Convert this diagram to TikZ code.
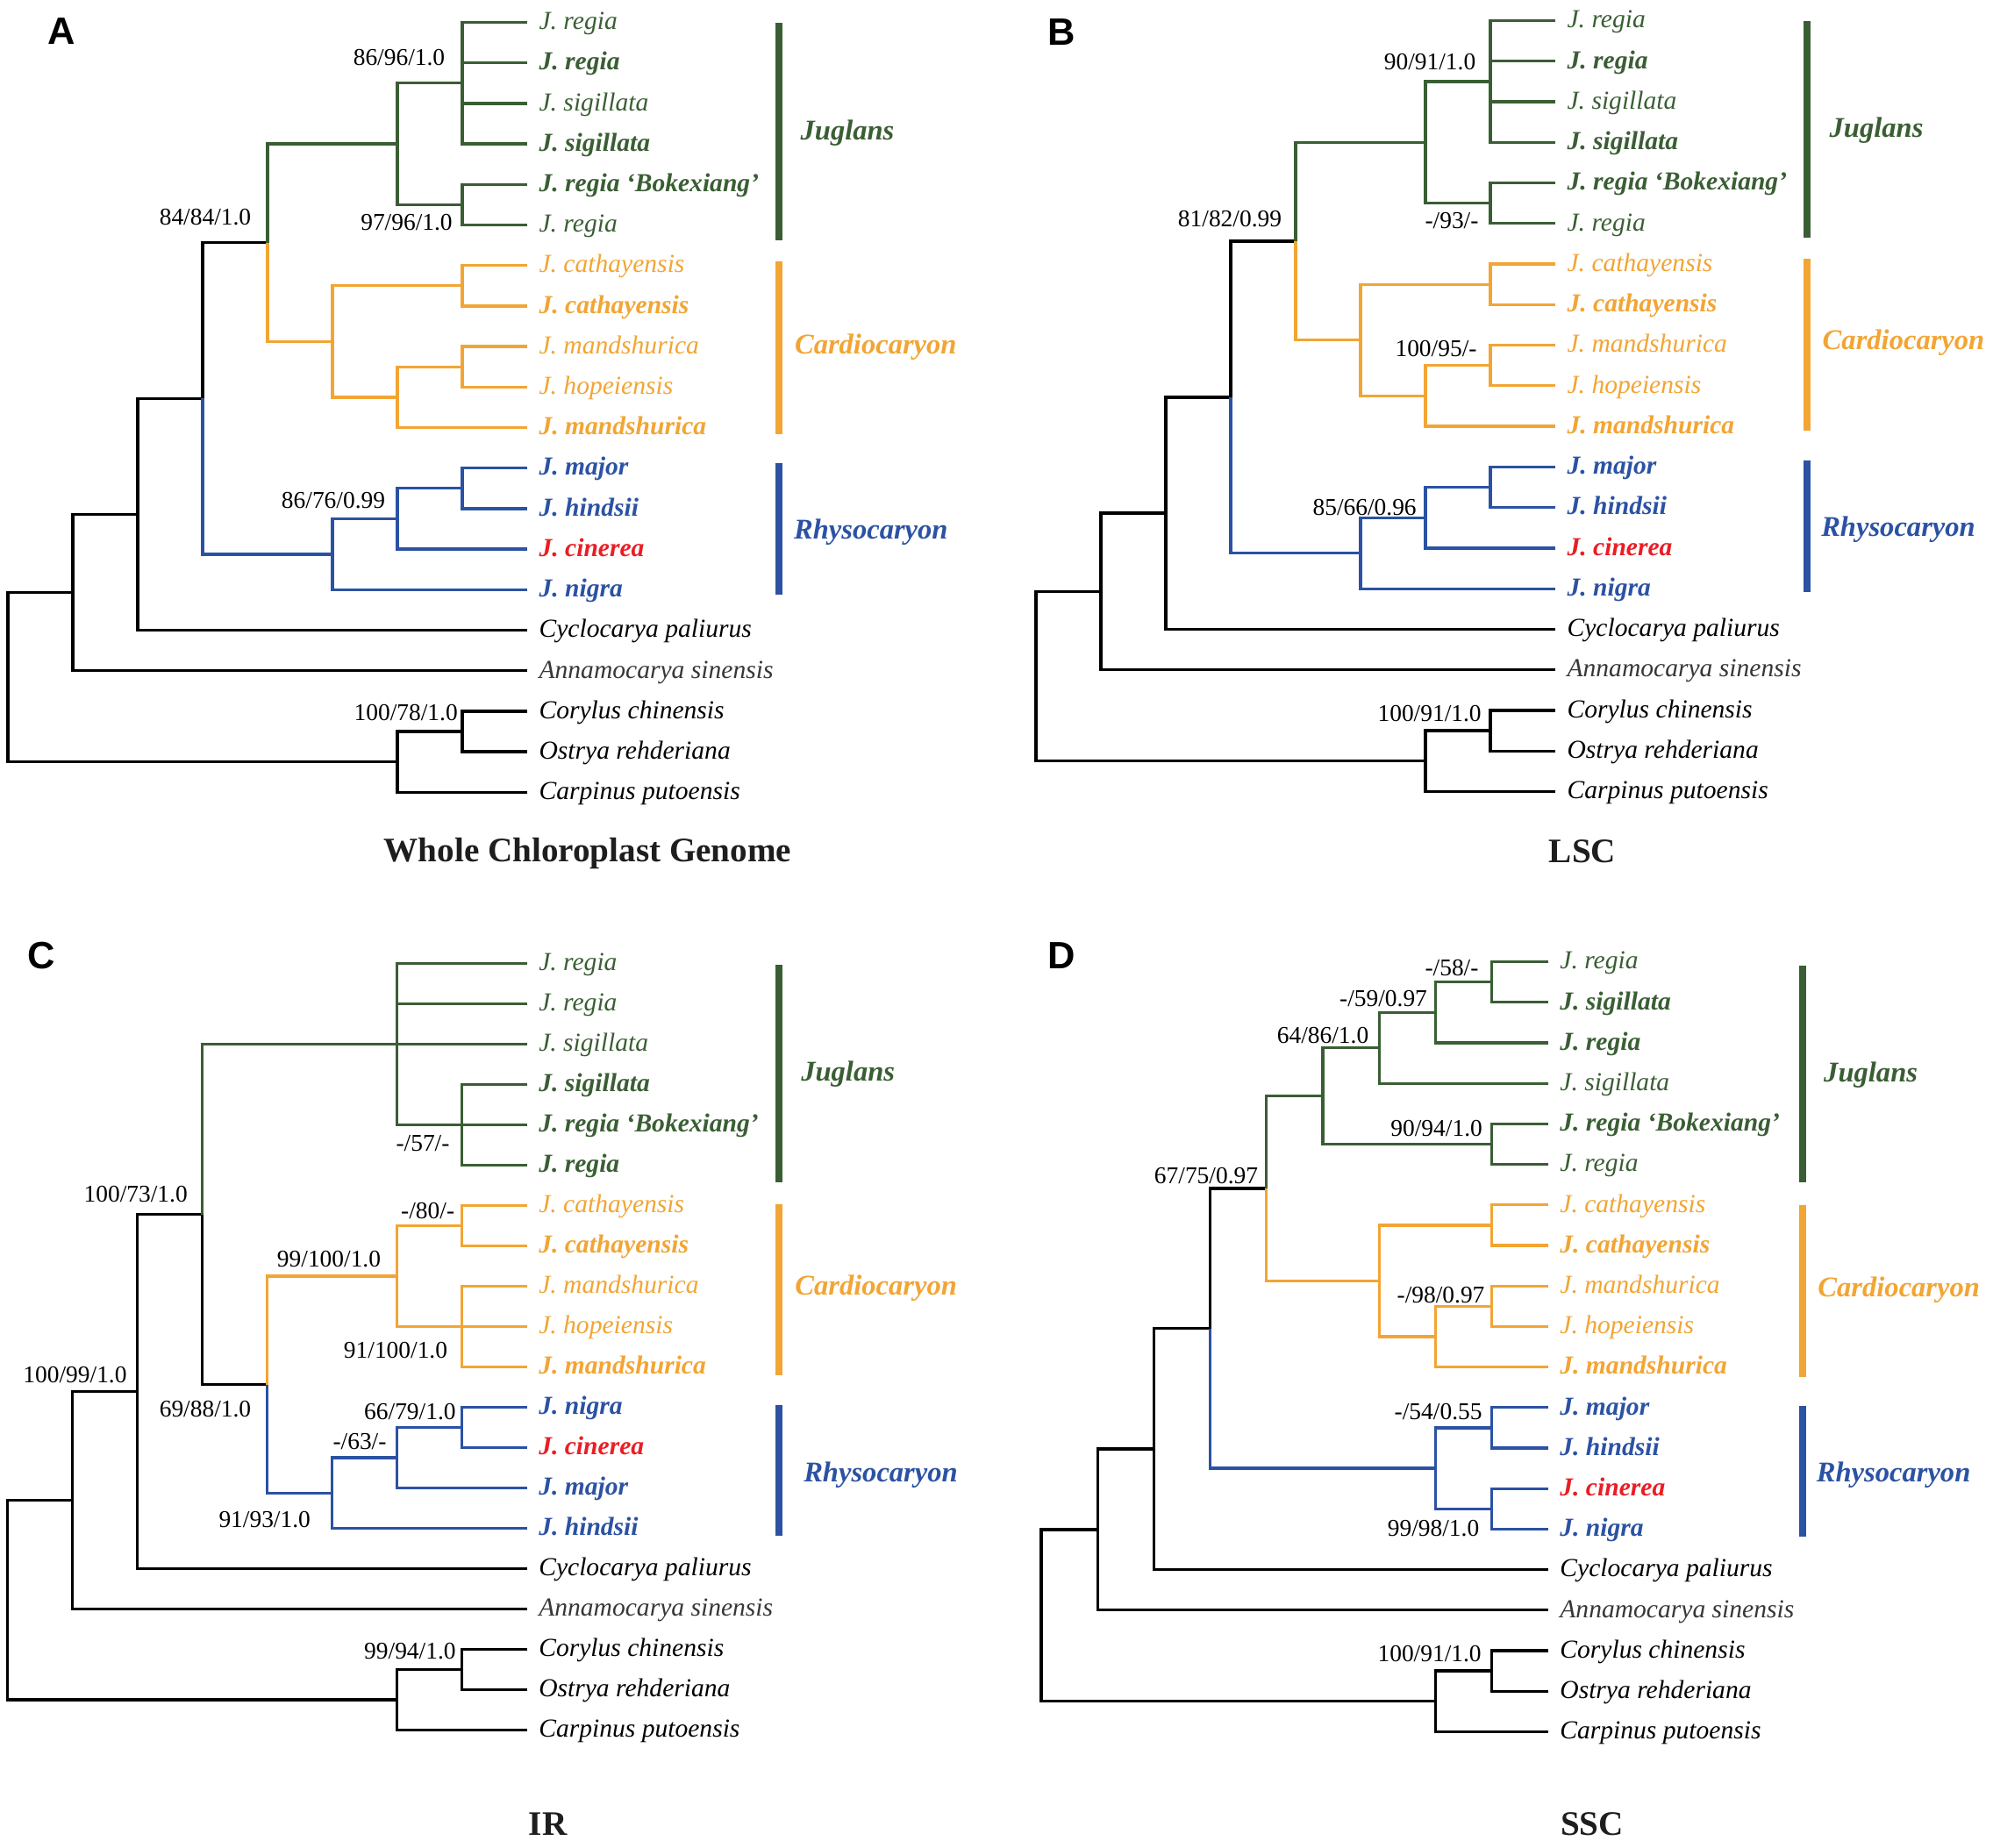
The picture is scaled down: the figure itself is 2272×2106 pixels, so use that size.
\documentclass[tikz,border=0pt]{standalone}
\usepackage{fontspec}
\setmainfont{Liberation Serif}
\newfontfamily\lsans{Liberation Sans}
\definecolor{jg}{RGB}{58,94,52}
\definecolor{co}{RGB}{242,165,52}
\definecolor{rb}{RGB}{43,82,163}
\definecolor{rd}{RGB}{233,30,37}
\definecolor{an}{RGB}{55,55,55}
\definecolor{ttlc}{RGB}{30,30,30}
\tikzset{
  br/.style={line width=1.15pt, line join=miter},
  lr/.style={font=\fontsize{10.35}{12}\selectfont\itshape, inner sep=0pt},
  lb/.style={font=\fontsize{10.35}{12}\selectfont\bfseries\itshape, inner sep=0pt},
  sup/.style={font=\fontsize{9.6}{11}\selectfont, inner sep=0pt},
  clade/.style={font=\fontsize{11.4}{13}\selectfont\bfseries\itshape, inner sep=0pt},
  ttl/.style={font=\fontsize{13.7}{16}\selectfont\bfseries, inner sep=0pt, text=ttlc},
  plet/.style={font=\lsans\bfseries\fontsize{15.2}{18}\selectfont, inner sep=0pt},
  cbar/.style={line width=2.5pt},
}
\newcommand\mkint[3]{\coordinate (#1) at ({\PXo+(#2)*\PXs},{\PYo+(#3)*\PYs});}
\newcommand\mkleaf[5]{\coordinate (#1) at ({\PXo+\PTip*\PXs},{\PYo+(#2)*\PYs});%
  \node[#3,text=#4,anchor=base west,xshift=4.55pt,yshift=-2.9pt] (#1t) at (#1) {#5};}
\newcommand\mkedge[3]{\draw[br,#1] (#2) |- (#3);}
\newcommand\treeAB[1]{%
\mkleaf{#1L0}{0}{lr}{jg}{J. regia}
\mkleaf{#1L1}{1}{lb}{jg}{J. regia}
\mkleaf{#1L2}{2}{lr}{jg}{J. sigillata}
\mkleaf{#1L3}{3}{lb}{jg}{J. sigillata}
\mkleaf{#1L4}{4}{lb}{jg}{J. regia ‘Bokexiang’}
\mkleaf{#1L5}{5}{lr}{jg}{J. regia}
\mkleaf{#1L6}{6}{lr}{co}{J. cathayensis}
\mkleaf{#1L7}{7}{lb}{co}{J. cathayensis}
\mkleaf{#1L8}{8}{lr}{co}{J. mandshurica}
\mkleaf{#1L9}{9}{lr}{co}{J. hopeiensis}
\mkleaf{#1L10}{10}{lb}{co}{J. mandshurica}
\mkleaf{#1L11}{11}{lb}{rb}{J. major}
\mkleaf{#1L12}{12}{lb}{rb}{J. hindsii}
\mkleaf{#1L13}{13}{lb}{rd}{J. cinerea}
\mkleaf{#1L14}{14}{lb}{rb}{J. nigra}
\mkleaf{#1L15}{15}{lr}{black}{Cyclocarya paliurus}
\mkleaf{#1L16}{16}{lr}{an}{Annamocarya sinensis}
\mkleaf{#1L17}{17}{lr}{black}{Corylus chinensis}
\mkleaf{#1L18}{18}{lr}{black}{Ostrya rehderiana}
\mkleaf{#1L19}{19}{lr}{black}{Carpinus putoensis}
\mkint{#1a1}{7}{1.5}
\mkint{#1a2}{7}{4.5}
\mkint{#1a3}{6}{3}
\mkint{#1c1}{7}{6.5}
\mkint{#1c2}{7}{8.5}
\mkint{#1c3}{6}{9.25}
\mkint{#1c4}{5}{7.875}
\mkint{#1n4}{4}{5.4375}
\mkint{#1r1}{7}{11.5}
\mkint{#1r2}{6}{12.25}
\mkint{#1r3}{5}{13.125}
\mkint{#1n3}{3}{9.28125}
\mkint{#1n2}{2}{12.140625}
\mkint{#1n1}{1}{14.0703}
\mkint{#1o1}{7}{17.5}
\mkint{#1o2}{6}{18.25}
\mkint{#1rt}{0}{16.16}
\mkedge{black}{#1n3}{#1n4}
\mkedge{black}{#1n2}{#1n3}
\mkedge{black}{#1n2}{#1L15}
\mkedge{black}{#1n1}{#1n2}
\mkedge{black}{#1n1}{#1L16}
\mkedge{black}{#1o1}{#1L17}
\mkedge{black}{#1o1}{#1L18}
\mkedge{black}{#1o2}{#1o1}
\mkedge{black}{#1o2}{#1L19}
\mkedge{black}{#1rt}{#1n1}
\mkedge{black}{#1rt}{#1o2}
\mkedge{jg}{#1a1}{#1L0}
\mkedge{jg}{#1a1}{#1L1}
\mkedge{jg}{#1a1}{#1L2}
\mkedge{jg}{#1a1}{#1L3}
\mkedge{jg}{#1a2}{#1L4}
\mkedge{jg}{#1a2}{#1L5}
\mkedge{jg}{#1a3}{#1a1}
\mkedge{jg}{#1a3}{#1a2}
\mkedge{jg}{#1n4}{#1a3}
\mkedge{co}{#1c1}{#1L6}
\mkedge{co}{#1c1}{#1L7}
\mkedge{co}{#1c2}{#1L8}
\mkedge{co}{#1c2}{#1L9}
\mkedge{co}{#1c3}{#1c2}
\mkedge{co}{#1c3}{#1L10}
\mkedge{co}{#1c4}{#1c1}
\mkedge{co}{#1c4}{#1c3}
\mkedge{co}{#1n4}{#1c4}
\mkedge{rb}{#1r1}{#1L11}
\mkedge{rb}{#1r1}{#1L12}
\mkedge{rb}{#1r2}{#1r1}
\mkedge{rb}{#1r2}{#1L13}
\mkedge{rb}{#1r3}{#1r2}
\mkedge{rb}{#1r3}{#1L14}
\mkedge{rb}{#1n3}{#1r3}
}
\begin{document}
\begin{tikzpicture}[x=0.35pt,y=-0.35pt]
\useasboundingbox (0,0) rectangle (2272,2106);
\fill[white] (0,0) rectangle (2272,2106);
% ---------------- Panel A
\begin{scope}
\def\PXo{9}\def\PXs{74}\def\PYo{25.5}\def\PYs{46.2}\def\PTip{8}
\treeAB{A}
\node[plet] (Alet) at (70.5,36) {A};
\node[sup] (As1) at (455,65.5) {86/96/1.0};
\node[sup] (As2) at (463.5,253.7) {97/96/1.0};
\node[sup] (As3) at (234,248) {84/84/1.0};
\node[sup] (As4) at (380,571) {86/76/0.99};
\node[sup] (As5) at (462.7,812.8) {100/78/1.0};
\draw[cbar,jg] (888,26) -- (888,274);
\draw[cbar,co] (888,298) -- (888,495);
\draw[cbar,rb] (888,528) -- (888,678);
\node[clade,text=jg] (Acj) at (966,151.7) {Juglans};
\node[clade,text=co] (Acc) at (998.3,396) {Cardiocaryon};
\node[clade,text=rb] (Acr) at (992.8,607) {Rhysocaryon};
\node[ttl] (Attl) at (670,973) {Whole Chloroplast Genome};
\end{scope}
% ---------------- Panel B
\begin{scope}
\def\PXo{1181}\def\PXs{74}\def\PYo{23.5}\def\PYs{46.26}\def\PTip{8}
\treeAB{B}
\node[plet] (Blet) at (1210.6,37) {B};
\node[sup] (Bs1) at (1630,70.5) {90/91/1.0};
\node[sup] (Bs2) at (1655,251.7) {-/93/-};
\node[sup] (Bs3) at (1402,249.7) {81/82/0.99};
\node[sup] (Bs4) at (1637,398) {100/95/-};
\node[sup] (Bs5) at (1555.6,578.5) {85/66/0.96};
\node[sup] (Bs6) at (1629.6,813.4) {100/91/1.0};
\draw[cbar,jg] (2060,23.5) -- (2060,270.5);
\draw[cbar,co] (2060,295) -- (2060,491);
\draw[cbar,rb] (2060,525) -- (2060,674.5);
\node[clade,text=jg] (Bcj) at (2139,149) {Juglans};
\node[clade,text=co] (Bcc) at (2170,391) {Cardiocaryon};
\node[clade,text=rb] (Bcr) at (2164,604) {Rhysocaryon};
\node[ttl] (Bttl) at (1804,971) {LSC};
\end{scope}
% ---------------- Panel C
\begin{scope}
\def\PXo{8.7}\def\PXs{74}\def\PYo{1098.6}\def\PYs{46.0}\def\PTip{8}
\mkleaf{CL0}{0}{lr}{jg}{J. regia}
\mkleaf{CL1}{1}{lr}{jg}{J. regia}
\mkleaf{CL2}{2}{lr}{jg}{J. sigillata}
\mkleaf{CL3}{3}{lb}{jg}{J. sigillata}
\mkleaf{CL4}{4}{lb}{jg}{J. regia ‘Bokexiang’}
\mkleaf{CL5}{5}{lb}{jg}{J. regia}
\mkleaf{CL6}{6}{lr}{co}{J. cathayensis}
\mkleaf{CL7}{7}{lb}{co}{J. cathayensis}
\mkleaf{CL8}{8}{lr}{co}{J. mandshurica}
\mkleaf{CL9}{9}{lr}{co}{J. hopeiensis}
\mkleaf{CL10}{10}{lb}{co}{J. mandshurica}
\mkleaf{CL11}{11}{lb}{rb}{J. nigra}
\mkleaf{CL12}{12}{lb}{rd}{J. cinerea}
\mkleaf{CL13}{13}{lb}{rb}{J. major}
\mkleaf{CL14}{14}{lb}{rb}{J. hindsii}
\mkleaf{CL15}{15}{lr}{black}{Cyclocarya paliurus}
\mkleaf{CL16}{16}{lr}{an}{Annamocarya sinensis}
\mkleaf{CL17}{17}{lr}{black}{Corylus chinensis}
\mkleaf{CL18}{18}{lr}{black}{Ostrya rehderiana}
\mkleaf{CL19}{19}{lr}{black}{Carpinus putoensis}
\mkint{Cj1}{7}{4}
\mkint{Cj2}{6}{2}
\mkint{Cc1}{7}{6.5}
\mkint{Cc2}{7}{9}
\mkint{Cc3}{6}{7.75}
\mkint{Cr1}{7}{11.5}
\mkint{Cr2}{6}{12.25}
\mkint{Cr3}{5}{13.125}
\mkint{Cn4}{4}{10.4375}
\mkint{Cn3}{3}{6.21875}
\mkint{Cn2}{2}{10.609}
\mkint{Cn1}{1}{13.305}
\mkint{Co1}{7}{17.5}
\mkint{Co2}{6}{18.25}
\mkint{Crt}{0}{15.777}
\mkedge{black}{Cn3}{Cn4}
\mkedge{black}{Cn2}{Cn3}
\mkedge{black}{Cn2}{CL15}
\mkedge{black}{Cn1}{Cn2}
\mkedge{black}{Cn1}{CL16}
\mkedge{black}{Co1}{CL17}
\mkedge{black}{Co1}{CL18}
\mkedge{black}{Co2}{Co1}
\mkedge{black}{Co2}{CL19}
\mkedge{black}{Crt}{Cn1}
\mkedge{black}{Crt}{Co2}
\mkedge{jg}{Cj1}{CL3}
\mkedge{jg}{Cj1}{CL4}
\mkedge{jg}{Cj1}{CL5}
\mkedge{jg}{Cj2}{CL0}
\mkedge{jg}{Cj2}{CL1}
\mkedge{jg}{Cj2}{CL2}
\mkedge{jg}{Cj2}{Cj1}
\mkedge{jg}{Cn3}{Cj2}
\mkedge{co}{Cc1}{CL6}
\mkedge{co}{Cc1}{CL7}
\mkedge{co}{Cc2}{CL8}
\mkedge{co}{Cc2}{CL9}
\mkedge{co}{Cc2}{CL10}
\mkedge{co}{Cc3}{Cc1}
\mkedge{co}{Cc3}{Cc2}
\mkedge{co}{Cn4}{Cc3}
\mkedge{rb}{Cr1}{CL11}
\mkedge{rb}{Cr1}{CL12}
\mkedge{rb}{Cr2}{Cr1}
\mkedge{rb}{Cr2}{CL13}
\mkedge{rb}{Cr3}{Cr2}
\mkedge{rb}{Cr3}{CL14}
\mkedge{rb}{Cn4}{Cr3}
\node[plet] (Clet) at (47,1090) {C};
\node[sup] (Cs1) at (482,1303.3) {-/57/-};
\node[sup] (Cs2) at (154.7,1361.7) {100/73/1.0};
\node[sup] (Cs3) at (487.7,1380.5) {-/80/-};
\node[sup] (Cs4) at (375,1435.5) {99/100/1.0};
\node[sup] (Cs5) at (451,1539.6) {91/100/1.0};
\node[sup] (Cs6) at (85.5,1567.8) {100/99/1.0};
\node[sup] (Cs7) at (234,1606.7) {69/88/1.0};
\node[sup] (Cs8) at (467.4,1610) {66/79/1.0};
\node[sup] (Cs9) at (410,1643.6) {-/63/-};
\node[sup] (Cs10) at (301.7,1732.9) {91/93/1.0};
\node[sup] (Cs11) at (467.4,1882.5) {99/94/1.0};
\draw[cbar,jg] (888,1100) -- (888,1348);
\draw[cbar,co] (888,1372.5) -- (888,1568.4);
\draw[cbar,rb] (888,1602) -- (888,1751);
\node[clade,text=jg] (Ccj) at (966.7,1224.8) {Juglans};
\node[clade,text=co] (Ccc) at (998.6,1469) {Cardiocaryon};
\node[clade,text=rb] (Ccr) at (1004,1681.9) {Rhysocaryon};
\node[ttl] (Cttl) at (624.6,2080) {IR};
\end{scope}
% ---------------- Panel D
\begin{scope}
\def\PXo{1187}\def\PXs{64.2}\def\PYo{1096.6}\def\PYs{46.2}\def\PTip{9}
\mkleaf{DL0}{0}{lr}{jg}{J. regia}
\mkleaf{DL1}{1}{lb}{jg}{J. sigillata}
\mkleaf{DL2}{2}{lb}{jg}{J. regia}
\mkleaf{DL3}{3}{lr}{jg}{J. sigillata}
\mkleaf{DL4}{4}{lb}{jg}{J. regia ‘Bokexiang’}
\mkleaf{DL5}{5}{lr}{jg}{J. regia}
\mkleaf{DL6}{6}{lr}{co}{J. cathayensis}
\mkleaf{DL7}{7}{lb}{co}{J. cathayensis}
\mkleaf{DL8}{8}{lr}{co}{J. mandshurica}
\mkleaf{DL9}{9}{lr}{co}{J. hopeiensis}
\mkleaf{DL10}{10}{lb}{co}{J. mandshurica}
\mkleaf{DL11}{11}{lb}{rb}{J. major}
\mkleaf{DL12}{12}{lb}{rb}{J. hindsii}
\mkleaf{DL13}{13}{lb}{rd}{J. cinerea}
\mkleaf{DL14}{14}{lb}{rb}{J. nigra}
\mkleaf{DL15}{15}{lr}{black}{Cyclocarya paliurus}
\mkleaf{DL16}{16}{lr}{an}{Annamocarya sinensis}
\mkleaf{DL17}{17}{lr}{black}{Corylus chinensis}
\mkleaf{DL18}{18}{lr}{black}{Ostrya rehderiana}
\mkleaf{DL19}{19}{lr}{black}{Carpinus putoensis}
\mkint{Dd1}{8}{0.5}
\mkint{Dd2}{7}{1.25}
\mkint{Dd3}{6}{2.125}
\mkint{Dd4}{8}{4.5}
\mkint{Dd5}{5}{3.3125}
\mkint{Dc1}{8}{6.5}
\mkint{Dc2}{8}{8.5}
\mkint{Dc3}{7}{9.25}
\mkint{Dc4}{6}{7.875}
\mkint{Dn4}{4}{5.59375}
\mkint{Dr1}{8}{11.5}
\mkint{Dr2}{8}{13.5}
\mkint{Dr3}{7}{12.5}
\mkint{Dn3}{3}{9.046875}
\mkint{Dn2}{2}{12.0234}
\mkint{Dn1}{1}{14.0117}
\mkint{Do1}{8}{17.5}
\mkint{Do2}{7}{18.25}
\mkint{Drt}{0}{16.13}
\mkedge{black}{Dn3}{Dn4}
\mkedge{black}{Dn2}{Dn3}
\mkedge{black}{Dn2}{DL15}
\mkedge{black}{Dn1}{Dn2}
\mkedge{black}{Dn1}{DL16}
\mkedge{black}{Do1}{DL17}
\mkedge{black}{Do1}{DL18}
\mkedge{black}{Do2}{Do1}
\mkedge{black}{Do2}{DL19}
\mkedge{black}{Drt}{Dn1}
\mkedge{black}{Drt}{Do2}
\mkedge{jg}{Dd1}{DL0}
\mkedge{jg}{Dd1}{DL1}
\mkedge{jg}{Dd2}{Dd1}
\mkedge{jg}{Dd2}{DL2}
\mkedge{jg}{Dd3}{Dd2}
\mkedge{jg}{Dd3}{DL3}
\mkedge{jg}{Dd4}{DL4}
\mkedge{jg}{Dd4}{DL5}
\mkedge{jg}{Dd5}{Dd3}
\mkedge{jg}{Dd5}{Dd4}
\mkedge{jg}{Dn4}{Dd5}
\mkedge{co}{Dc1}{DL6}
\mkedge{co}{Dc1}{DL7}
\mkedge{co}{Dc2}{DL8}
\mkedge{co}{Dc2}{DL9}
\mkedge{co}{Dc3}{Dc2}
\mkedge{co}{Dc3}{DL10}
\mkedge{co}{Dc4}{Dc1}
\mkedge{co}{Dc4}{Dc3}
\mkedge{co}{Dn4}{Dc4}
\mkedge{rb}{Dr1}{DL11}
\mkedge{rb}{Dr1}{DL12}
\mkedge{rb}{Dr2}{DL13}
\mkedge{rb}{Dr2}{DL14}
\mkedge{rb}{Dr3}{Dr1}
\mkedge{rb}{Dr3}{Dr2}
\mkedge{rb}{Dn3}{Dr3}
\node[plet] (Dlet) at (1210.6,1090) {D};
\node[sup] (Ds1) at (1655,1103.3) {-/58/-};
\node[sup] (Ds2) at (1577,1138.2) {-/59/0.97};
\node[sup] (Ds3) at (1508,1180.5) {64/86/1.0};
\node[sup] (Ds4) at (1637.6,1286.6) {90/94/1.0};
\node[sup] (Ds5) at (1375,1340.2) {67/75/0.97};
\node[sup] (Ds6) at (1642.5,1477) {-/98/0.97};
\node[sup] (Ds7) at (1639.6,1610) {-/54/0.55};
\node[sup] (Ds8) at (1634,1743) {99/98/1.0};
\node[sup] (Ds9) at (1629.6,1885.2) {100/91/1.0};
\draw[cbar,jg] (2055,1101) -- (2055,1348);
\draw[cbar,co] (2055,1374) -- (2055,1570);
\draw[cbar,rb] (2055,1603) -- (2055,1752);
\node[clade,text=jg] (Dcj) at (2132.6,1226) {Juglans};
\node[clade,text=co] (Dcc) at (2164.7,1470.5) {Cardiocaryon};
\node[clade,text=rb] (Dcr) at (2158.6,1681.9) {Rhysocaryon};
\node[ttl] (Dttl) at (1815,2080) {SSC};
\end{scope}
\end{tikzpicture}
\end{document}
